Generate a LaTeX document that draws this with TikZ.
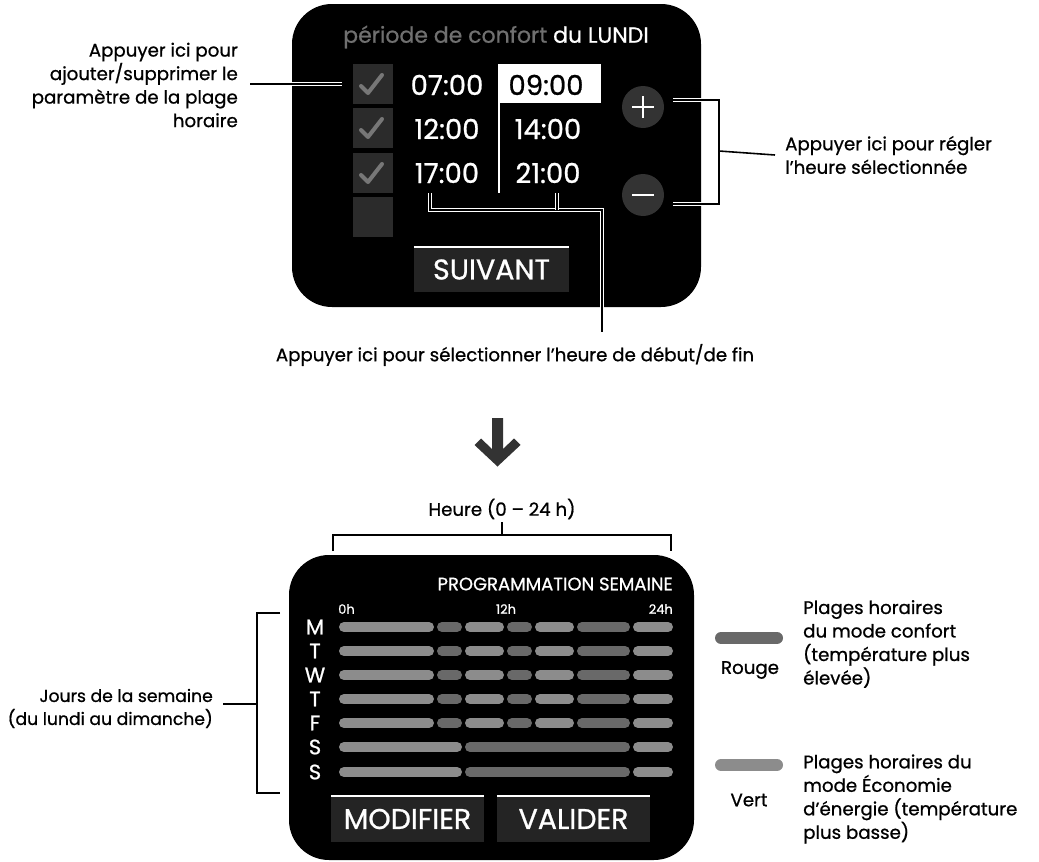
\documentclass[tikz,border=0pt]{standalone}
\usepackage{fontspec}
\setmainfont{Poppins}[FakeBold=0.8]
\usetikzlibrary{positioning}
\definecolor{case}{HTML}{2B2B2B}
\definecolor{coche}{HTML}{777777}
\definecolor{bouton}{HTML}{333333}
\definecolor{touche}{HTML}{242424}
\definecolor{titregris}{HTML}{707070}
\definecolor{confort}{HTML}{696969}
\definecolor{eco}{HTML}{8C8C8C}
\newcommand\taille[2]{\fontsize{#1}{#2}\selectfont}
\tikzset{
  lbl/.style={inner sep=0pt,font=\taille{18.2}{23.5}},
  heure/.style={text=white,inner sep=0pt,font=\taille{27.5}{27.5}},
  toucheb/.style={fill=touche,text=white,inner sep=0pt,font=\taille{28.5}{28.5}},
  callout/.style={line width=1.4pt,preaction={draw=white,line width=3.8pt}},
  trait/.style={line width=1.6pt},
  barre/.style={line width=10pt,line cap=round},
}
\begin{document}
\begin{tikzpicture}[x=1pt,y=-1pt]
\useasboundingbox (0,0) rectangle (1039,862);

%ecran du haut
\fill[black,rounded corners=40pt] (292,4) rectangle (701,307);
\node[text=white,inner sep=0pt,font=\taille{22}{22}] (titre) at (496,37) {\textcolor{titregris}{période de confort} du LUNDI};

\foreach \y [count=\i] in {64,108,153,197} {
\fill[case] (353,\y) rectangle +(40,40);
\coordinate (case\i) at (353,\y+20);}
\foreach \y in {64,108,153} {
\draw[coche,line width=4pt,line cap=round,line join=round] (361,\y+22) -- (368,\y+29) -- (382,\y+11);}

\fill[white] (498,64) rectangle (601,103);
\draw[white,line width=1.5pt] (499,103) -- (499,193);
\node[heure] (h1) at (447,85) {07:00};
\node[heure,text=black] (h2) at (546,85) {09:00};
\node[heure] (h3) at (447,129) {12:00};
\node[heure] (h4) at (548,129) {14:00};
\node[heure] (h5) at (447,173) {17:00};
\node[heure] (h6) at (548,173) {21:00};

\node[circle,fill=bouton,minimum size=42pt,inner sep=0pt] (plus) at (643,107) {};
\draw[white,line width=2.5pt] (632,107) -- (654,107) (643,96) -- (643,118);
\node[circle,fill=bouton,minimum size=42pt,inner sep=0pt] (moins) at (643,195) {};
\draw[white,line width=2.5pt] (632,195) -- (654,195);

\node[toucheb,minimum width=155pt,minimum height=45pt] (suivant) at (491.5,269.5) {SUIVANT};
\draw[white,line width=1.5pt] (suivant.north west) -- (suivant.north east);

%textes et reperes du haut
\node[lbl,align=right,anchor=east] (ajout) at (238,85) {Appuyer ici pour\\ajouter/supprimer le\\paramètre de la plage\\horaire};
\coordinate (a1) at (250,84);
\draw[callout] (a1) -- ([xshift=-11pt]case1);

\node[lbl,align=left,anchor=west] (regl) at (785,155) {Appuyer ici pour régler\\l’heure sélectionnée};
\coordinate (p1) at (673,100);
\coordinate (p2) at (673,204);
\coordinate (p3) at (719,151);
\draw[callout] (p1) -- (719,100) -- (719,204) -- (p2);
\draw[trait] (p3) -- ([xshift=-10pt]regl.west);

\node[lbl] (selec) at (515,355) {Appuyer ici pour sélectionner l’heure de début/de fin};
\coordinate (s1) at (430,193);
\coordinate (s2) at (557,193);
\coordinate (s3) at (602,210);
\draw[callout] (s1) -- (s1 |- s3) -- (s3) -- ([yshift=12pt]s3 |- selec.north);
\draw[callout] (s2) -- (s2 |- s3);

%fleche
\fill[bouton] (492,418) -- (503,418) -- (503,449) -- (514,438.5) -- (520.5,445) -- (497.5,466.5) -- (474.5,445) -- (481,438.5) -- (492,449) -- cycle;

%ecran du bas
\node[lbl] (heures) at (502,509) {Heure (0 – 24 h)};
\coordinate (c1) at (502,535);
\draw[trait] (heures.south) ++(0,3) -- (c1);
\draw[trait] (333,551) -- (333,535) -- (671,535) -- (671,551);

\fill[black,rounded corners=40pt] (289,555) rectangle (694,860);
\node[text=white,inner sep=0pt,anchor=east,font=\taille{18}{18}] (prog) at (673,584) {PROGRAMMATION SEMAINE};
\node[text=white,inner sep=0pt,anchor=west,font=\taille{13}{13}] (h0) at (338,609) {0h};
\node[text=white,inner sep=0pt,font=\taille{13}{13}] (h12) at (506,609) {12h};
\node[text=white,inner sep=0pt,anchor=east,font=\taille{13}{13}] (h24) at (673,609) {24h};

\foreach \j/\y [count=\i] in {M/627,T/651,W/675,T/699,F/723,S/747,S/772} {
\node[text=white,inner sep=0pt,font=\taille{21}{21}] (jour\i) at (315,\y) {\j};}

\foreach \y in {627,651,675,699,723} {
\foreach \a/\b/\c in {339/434/eco,437/462/confort,465/504/eco,507/532/confort,535/574/eco,577/630/confort,633/673/eco}
\draw[barre,\c] (\a+5,\y) -- (\b-5,\y);}
\foreach \y in {747,772} {
\foreach \a/\b/\c in {339/462/eco,465/630/confort,633/673/eco}
\draw[barre,\c] (\a+5,\y) -- (\b-5,\y);}

\node[toucheb,minimum width=153pt,minimum height=46pt] (modif) at (407.5,819) {MODIFIER};
\draw[white,line width=1.5pt] (modif.north west) -- (modif.north east);
\node[toucheb,minimum width=153pt,minimum height=46pt] (valid) at (573.5,819) {VALIDER};
\draw[white,line width=1.5pt] (valid.north west) -- (valid.north east);

%jours
\node[lbl,align=right,anchor=east,font=\taille{17.2}{23}] (jours) at (213,708.5) {Jours de la semaine\\(du lundi au dimanche)};
\coordinate (d1) at (223,704);
\draw[trait] (280,613) -- (257,613) -- (257,793) -- (280,793);
\draw[trait] (d1) -- (257,704);

%legende
\draw[barre,line width=12pt,confort] (721,638) -- (777,638);
\node[lbl] (rouge) at (750,670) {Rouge};
\node[lbl,align=left,anchor=west] (txtrouge) at (803,644) {Plages horaires\\du mode confort\\(température plus\\élevée)};
\draw[barre,line width=12pt,eco] (721,765) -- (777,765);
\node[lbl] (vert) at (749,800) {Vert};
\node[lbl,align=left,anchor=west] (txtvert) at (803,799) {Plages horaires du\\mode Économie\\d’énergie (température\\plus basse)};
\end{tikzpicture}
\end{document}
